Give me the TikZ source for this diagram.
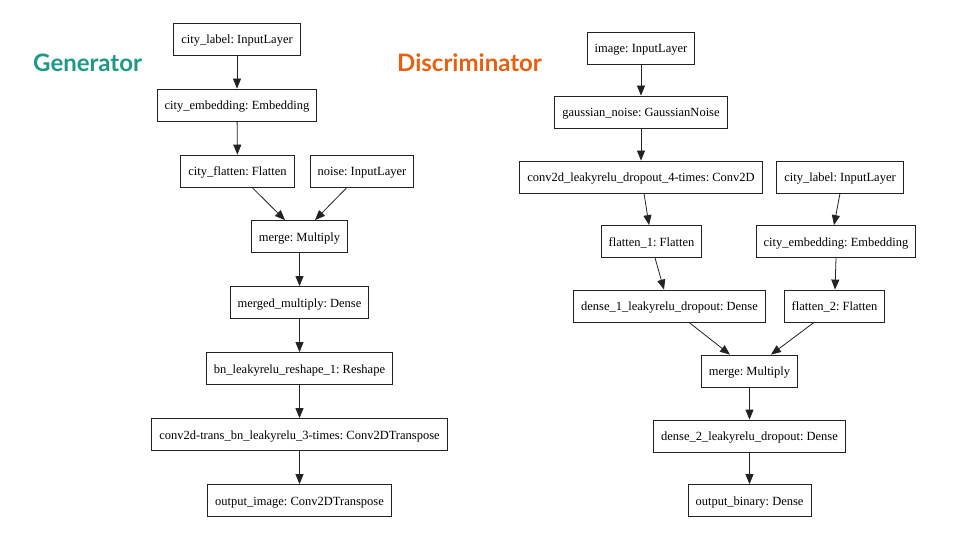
\documentclass[tikz,border=0pt]{standalone}
\usepackage{fontspec}
\setmainfont{Liberation Serif}
\newfontfamily\boxfont{Liberation Serif}
\newfontfamily\titlefont{Lato}
\usetikzlibrary{arrows.meta}
\frenchspacing
\definecolor{gencol}{HTML}{1E9985}
\definecolor{discol}{HTML}{E8600F}
\definecolor{edgecol}{HTML}{222222}
\tikzset{
  layer/.style={draw=edgecol, line width=0.8pt, fill=white, minimum height=32pt,
    inner xsep=7.5pt, inner ysep=0pt, text height=10pt, text depth=0.5pt,
    font=\boxfont\frenchspacing\fontsize{12.5}{14}\selectfont, text=black},
  arr/.style={draw=edgecol, line width=0.8pt, -{Triangle[length=10pt,width=8pt]}},
  ttl/.style={font=\titlefont\bfseries\fontsize{24}{28}\selectfont, anchor=west, inner sep=0pt}
}
\begin{document}
\begin{tikzpicture}[x=1pt,y=-1pt]
\useasboundingbox (0,0) rectangle (960,540);
% titles
\node[ttl, text=gencol] (tgen) at (33,63) {Generator};
\node[ttl, text=discol] (tdis) at (397,63) {Discriminator};
% Generator
\node[layer] (glabel) at (237,39) {city\_label: InputLayer};
\node[layer] (gemb) at (237,105) {city\_embedding: Embedding};
\node[layer] (gflat) at (237.5,171) {city\_flatten: Flatten};
\node[layer] (gnoise) at (362,171) {noise: InputLayer};
\node[layer] (gmerge) at (299.5,236.5) {merge: Multiply};
\node[layer] (gdense) at (299.5,302.5) {merged\_multiply: Dense};
\node[layer] (gresh) at (299.5,368.5) {bn\_leakyrelu\_reshape\_1: Reshape};
\node[layer] (gconv) at (299.5,434.5) {conv2d-trans\_bn\_leakyrelu\_3-times: Conv2DTranspose};
\node[layer] (gout) at (299.5,500.5) {output\_image: Conv2DTranspose};
\draw[arr] (glabel) -- (gemb);
\draw[arr] (gemb) -- (gflat);
\draw[arr] ([xshift=14.5pt]gflat.south) -- ([xshift=-14.5pt]gmerge.north);
\draw[arr] ([xshift=-15pt]gnoise.south) -- ([xshift=15.5pt]gmerge.north);
\draw[arr] (gmerge) -- (gdense);
\draw[arr] (gdense) -- (gresh);
\draw[arr] (gresh) -- (gconv);
\draw[arr] (gconv) -- (gout);
% Discriminator
\node[layer] (dimage) at (641,48) {image: InputLayer};
\node[layer] (dgauss) at (641,112) {gaussian\_noise: GaussianNoise};
\node[layer] (dconv) at (641,177) {conv2d\_leakyrelu\_dropout\_4-times: Conv2D};
\node[layer] (dlabel) at (840,177) {city\_label: InputLayer};
\node[layer] (dflat1) at (651.5,241.5) {flatten\_1: Flatten};
\node[layer] (demb) at (836,241.5) {city\_embedding: Embedding};
\node[layer] (ddense1) at (669.5,306) {dense\_1\_leakyrelu\_dropout: Dense};
\node[layer] (dflat2) at (834.5,306) {flatten\_2: Flatten};
\node[layer] (dmerge) at (749.5,371) {merge: Multiply};
\node[layer] (ddense2) at (749.5,436) {dense\_2\_leakyrelu\_dropout: Dense};
\node[layer] (dout) at (749.5,500.5) {output\_binary: Dense};
\draw[arr] (dimage) -- (dgauss);
\draw[arr] (dgauss) -- (dconv);
\draw[arr] ([xshift=3pt]dconv.south) -- ([xshift=-2.5pt]dflat1.north);
\draw[arr] (dlabel.south) -- ([xshift=-2pt]demb.north);
\draw[arr] ([xshift=3.5pt]dflat1.south) -- ([xshift=-5.5pt]ddense1.north);
\draw[arr] (demb.south) -- ([xshift=0.5pt]dflat2.north);
\draw[arr] ([xshift=19.5pt]ddense1.south) -- ([xshift=-19.5pt]dmerge.north);
\draw[arr] ([xshift=-20.5pt]dflat2.south) -- ([xshift=21.5pt]dmerge.north);
\draw[arr] (dmerge) -- (ddense2);
\draw[arr] (ddense2) -- (dout);
\end{tikzpicture}
\end{document}
